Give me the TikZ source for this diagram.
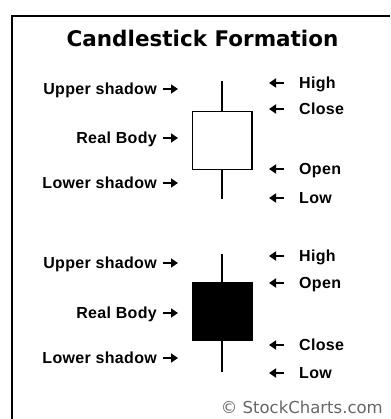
\documentclass[tikz,border=0pt]{standalone}
\usepackage{fontspec}
\setmainfont{Liberation Sans}
\newfontfamily\headfont{DejaVu Sans}
\usetikzlibrary{arrows.meta}

\begin{document}
\begin{tikzpicture}[x=1pt, y=-1pt,
  lbl/.style={font=\bfseries\fontsize{16}{16}\selectfont\addfontfeature{LetterSpace=2}, inner sep=0pt},
  ptr/.style={-{Triangle[length=7pt,width=9pt]}, line width=2.5pt},
  candle/.style={line width=1.5pt}]
\useasboundingbox (0,0) rectangle (390,419);
\draw[line width=2pt] (12,419)--(12,16.5)--(390,16.5);

\node[font=\headfont\bfseries\fontsize{21.5}{21.5}\selectfont, inner sep=0pt] (title) at (202.5,38) {Candlestick Formation};

% white candle
\draw[candle] (222,81.5)--(222,111.5) (222,169.5)--(222,199.5);
\draw[candle] (192.5,111.5) rectangle (252,169.5);
% black candle
\draw[candle] (222,253.5)--(222,282.5) (222,340.5)--(222,371.5);
\draw[candle, fill=black] (192.5,282.5) rectangle (252,340.5);

% left side
\foreach \txt/\y [count=\i] in {Upper shadow/89, Real Body/138, Lower shadow/183, Upper shadow/263, Real Body/313, Lower shadow/358} {
  \node[lbl, anchor=base east] (l\i) at (157,\y+5.5) {\txt};
  \draw[ptr] (163,\y) -- (178,\y);
}

% right side
\foreach \txt/\y [count=\i] in {High/83, Close/109, Open/169, Low/198, High/256, Open/283, Close/345, Low/373} {
  \node[lbl, anchor=base west] (r\i) at (299,\y+5.5) {\txt};
  \draw[ptr] (284,\y) -- (269,\y);
}

\node[font=\headfont\fontsize{16.5}{16.5}\selectfont, text=black!60, inner sep=0pt, anchor=east] (copy) at (383,407) {© StockCharts.com};

\end{tikzpicture}
\end{document}
